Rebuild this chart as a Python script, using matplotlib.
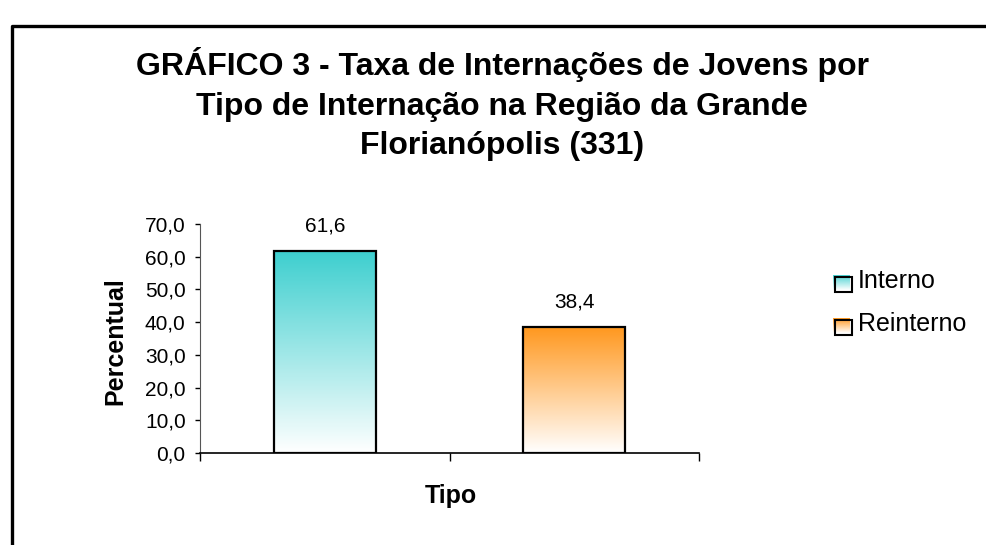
import matplotlib.pyplot as plt
import numpy as np
from matplotlib.colors import LinearSegmentedColormap
from matplotlib.ticker import FuncFormatter, FixedLocator
from matplotlib.patches import Rectangle
from matplotlib.lines import Line2D

categories = ['Interno', 'Reinterno']
values = [61.6, 38.4]
top_colors = ['#3ecfcf', '#ff981f']
title_lines = ['GRÁFICO 3 - Taxa de Internações de Jovens por',
               'Tipo de Internação na Região da Grande',
               'Florianópolis (331)']

plt.rcParams['font.family'] = ['Liberation Sans', 'DejaVu Sans']

W, H = 987, 545
fig = plt.figure(figsize=(W / 100, H / 100), dpi=100)
ax = fig.add_axes([0.2031, 0.1688, 0.505, 0.4202])

x = np.arange(len(categories))
width = 0.41
grad = np.linspace(0, 1, 256).reshape(-1, 1)
cmaps = [LinearSegmentedColormap.from_list('g', ['#ffffff', c]) for c in top_colors]

for xi, v, cmap in zip(x, values, cmaps):
    ax.imshow(grad, cmap=cmap, origin='lower', aspect='auto',
              extent=[xi - width / 2, xi + width / 2, 0, v], zorder=1)
    ax.annotate(f'{v:.1f}'.replace('.', ','), (xi, v), xytext=(0, 14.4),
                textcoords='offset points', ha='center', va='baseline', fontsize=15)

ax.bar(x, values, width=width, fill=False, edgecolor='black', linewidth=1.6, zorder=2)

ax.set_xlim(-0.5, 1.5)
ax.set_ylim(0, 70)
ax.yaxis.set_major_locator(FixedLocator(np.arange(0, 71, 10)))
ax.yaxis.set_major_formatter(FuncFormatter(lambda v, p: f'{v:.1f}'.replace('.', ',')))
ax.xaxis.set_major_locator(FixedLocator([-0.5, 0.5, 1.5]))
ax.set_xticklabels([])
ax.tick_params(axis='y', direction='out', length=3.6, pad=7, labelsize=15, width=1)
ax.tick_params(axis='x', direction='out', length=6, width=1)
for s in ['top', 'right']:
    ax.spines[s].set_visible(False)
ax.spines['left'].set_color('#555555')
ax.spines['bottom'].set_linewidth(1.2)

fig.text(115 / W, 1 - 341 / H, 'Percentual', rotation=90, ha='center', va='center',
         fontsize=18, fontweight='bold')
fig.text(451 / W, 1 - 503 / H, 'Tipo', ha='center', va='baseline',
         fontsize=18, fontweight='bold')

for line, base in zip(title_lines, [75, 115, 154]):
    fig.text(502 / W, 1 - base / H, line, ha='center', va='baseline',
             fontsize=23, fontweight='bold')

# legend drawn by hand: gradient square, offset black outline, label
for name, cmap, top in zip(categories, cmaps, [277, 320]):
    sq = fig.add_axes([833 / W, 1 - (top + 13) / H, 17 / W, 15 / H])
    sq.imshow(grad, cmap=cmap, origin='lower', aspect='auto', extent=[0, 1, 0, 1])
    sq.set_axis_off()
    fig.add_artist(Rectangle((835 / W, 1 - (top + 15) / H), 17 / W, 15 / H,
                             transform=fig.transFigure, fill=False,
                             edgecolor='black', linewidth=1.5, zorder=5))
    fig.text(858 / W, 1 - (top + 11) / H, name, ha='left', va='baseline', fontsize=18)

# outer chart frame (right and bottom edges fall outside the image)
fig.add_artist(Line2D([11.5 / W, 11.5 / W, 1.0], [0.0, 1 - 26 / H, 1 - 26 / H],
                      transform=fig.transFigure, color='black', linewidth=2.4))

fig.savefig('out.png', dpi=100)
